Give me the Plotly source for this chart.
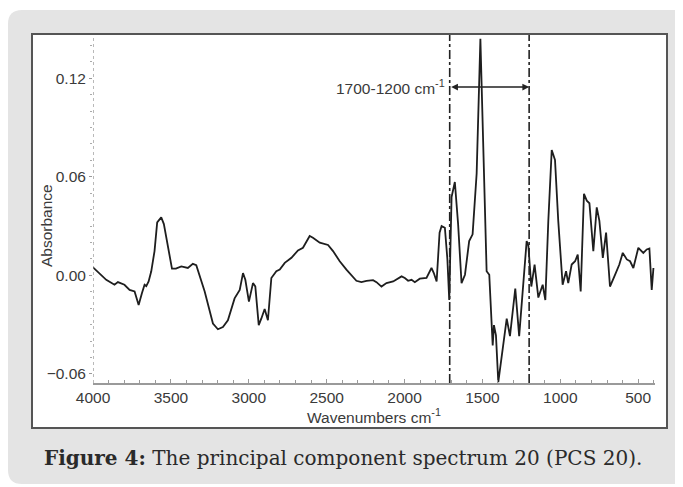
import plotly.graph_objects as go

# ---- data ----
wavenumber = [4000, 3958, 3915, 3862, 3840, 3798, 3765, 3733, 3707, 3686, 3669, 3658, 3643, 3626,
              3605, 3588, 3562, 3545, 3519, 3493, 3468, 3433, 3391, 3359, 3337, 3283, 3230, 3198,
              3166, 3134, 3091, 3058, 3037, 3022, 2999, 2973, 2958, 2936, 2919, 2898, 2877, 2855,
              2823, 2801, 2769, 2726, 2684, 2652, 2609, 2588, 2544, 2491, 2459, 2416, 2373, 2309,
              2277, 2244, 2202, 2180, 2148, 2116, 2073, 2019, 1998, 1977, 1955, 1934, 1902, 1859,
              1827, 1812, 1794, 1775, 1762, 1741, 1725, 1713, 1698, 1677, 1656, 1634, 1612, 1585,
              1563, 1537, 1513, 1495, 1473, 1456, 1434, 1426, 1413, 1398, 1344, 1323, 1289, 1264,
              1216, 1205, 1186, 1165, 1141, 1113, 1096, 1077, 1055, 1034, 1013, 985, 963, 949,
              927, 905, 888, 869, 848, 830, 813, 788, 766, 749, 727, 706, 681, 648, 621, 599,
              573, 552, 531, 499, 467, 445, 428, 413, 402]
absorbance = [0.0049, 0.0014, -0.0027, -0.0057, -0.0041, -0.0057, -0.0088, -0.0098, -0.018, -0.0109,
              -0.0057, -0.0065, -0.0037, 0.0025, 0.0148, 0.0322, 0.0353, 0.0312, 0.0168, 0.0041,
              0.0041, 0.0055, 0.0045, 0.007, 0.0062, -0.0098, -0.0293, -0.0328, -0.0314, -0.0273,
              -0.014, -0.0088, 0.0014, -0.0027, -0.016, -0.0047, -0.0067, -0.0303, -0.0262, -0.0205,
              -0.0273, -0.0016, 0.0025, 0.0035, 0.0076, 0.0107, 0.0152, 0.0168, 0.024, 0.0229,
              0.0199, 0.0185, 0.0148, 0.0086, 0.0035, -0.0033, -0.0041, -0.0033, -0.0029, -0.0041,
              -0.0068, -0.0047, -0.0037, -0.0006, -0.0016, -0.0033, -0.0027, -0.0041, -0.002, -0.0016,
              0.0045, 0.0014, -0.0037, 0.026, 0.030, 0.029, 0.010, -0.015, 0.0476, 0.0568,
              0.0312, -0.0047, 0.0004, 0.0209, 0.025, 0.062, 0.144, 0.0825, 0.0025, 0.0004,
              -0.0426, -0.0303, -0.0365, -0.065, -0.0263, -0.037, -0.008, -0.037, 0.0209, 0.018,
              -0.0068, 0.0066, -0.0135, -0.0057, -0.015, 0.033, 0.0763, 0.0702, 0.033, -0.0057,
              0.0025, -0.0047, 0.0066, 0.0086, 0.0127, -0.0098, 0.0497, 0.0455, 0.0439, 0.0148,
              0.0414, 0.0332, 0.0106, 0.026, -0.0068, 0.0004, 0.0066, 0.0137, 0.0097, 0.0086,
              0.0045, 0.0168, 0.0137, 0.0158, 0.0164, -0.0088, 0.0045]
x_ticks = [4000, 3500, 3000, 2500, 2000, 1500, 1000, 500]
y_ticks = [-0.06, 0.00, 0.06, 0.12]
region_bounds = [1710, 1200]
region_label = "1700-1200 cm<sup>-1</sup>"

# ---- layout geometry (page pixels; the page body has an 8px margin) ----
OFF = 8
W, H = 683 - OFF, 487 - OFF
L, R, T, B = 93 - OFF, 28, 35 - OFF, 104
PW, PH = W - L - R, H - T - B


def px(x):
    return (x - OFF - L) / PW


def py(y):
    return (H - B - (y - OFF)) / PH


def rounded_rect(x0, y0, x1, y1, r):
    rx, ry = r / PW, r / PH
    X0, X1, Y0, Y1 = px(x0), px(x1), py(y1), py(y0)  # Y0 bottom, Y1 top
    return (f"M {X0+rx},{Y1} L {X1-rx},{Y1} Q {X1},{Y1} {X1},{Y1-ry} "
            f"L {X1},{Y0+ry} Q {X1},{Y0} {X1-rx},{Y0} L {X0+rx},{Y0} "
            f"Q {X0},{Y0} {X0},{Y0+ry} L {X0},{Y1-ry} Q {X0},{Y1} {X0+rx},{Y1} Z")


fig = go.Figure()
fig.add_trace(go.Scatter(x=wavenumber, y=absorbance, mode="lines",
                         line=dict(color="#1e1e1e", width=1.8), hoverinfo="skip",
                         showlegend=False))

shapes = [
    # grey card
    dict(type="path", xref="paper", yref="paper", path=rounded_rect(8, 10, 700, 484, 14),
         fillcolor="#e4e4e4", line=dict(width=0), layer="below"),
    # white chart frame
    dict(type="rect", xref="paper", yref="paper", x0=px(32), x1=px(667), y0=py(428), y1=py(34),
         fillcolor="white", line=dict(color="#555555", width=2), layer="below"),
    # dotted y-axis line
    dict(type="line", xref="x", yref="paper", x0=4000, x1=4000, y0=0, y1=1,
         line=dict(color="#8a8a8a", width=1.2, dash="dot")),
]
for b in region_bounds:
    shapes.append(dict(type="line", xref="x", yref="paper", x0=b, x1=b, y0=0, y1=1,
                       line=dict(color="#222222", width=1.6, dash="dashdot")))

font_ax = dict(family="Liberation Sans, Arial, sans-serif", size=15.5, color="#3a3a3a")

annotations = [
    dict(x=region_bounds[1], y=0.1146, ax=region_bounds[0], ay=0.1146, xref="x", yref="y",
         axref="x", ayref="y", text="", showarrow=True, arrowhead=2, arrowside="end+start",
         arrowsize=0.9, arrowwidth=1.5, arrowcolor="#222222"),
    dict(x=1725, y=0.1146, xref="x", yref="y", text=region_label, showarrow=False,
         xanchor="right", yanchor="middle", font=font_ax),
    dict(x=px(46), y=py(226), xref="paper", yref="paper", text="Absorbance", textangle=-90,
         showarrow=False, xanchor="center", yanchor="middle", font=font_ax),
    dict(x=px(374), y=py(416), xref="paper", yref="paper", text="Wavenumbers cm<sup>-1</sup>",
         showarrow=False, xanchor="center", yanchor="middle", font=font_ax),
    dict(x=px(343), y=py(458), xref="paper", yref="paper",
         text="<b>Figure 4:</b> The principal component spectrum 20 (PCS 20).",
         showarrow=False, xanchor="center", yanchor="middle",
         font=dict(family="DejaVu Serif, serif", size=20, color="#2a2a2a")),
]

fig.update_layout(
    width=W, height=H,
    margin=dict(l=L, r=R, t=T, b=B),
    paper_bgcolor="white", plot_bgcolor="rgba(0,0,0,0)",
    shapes=shapes, annotations=annotations,
    xaxis=dict(range=[4000, 392], tickvals=x_ticks, ticktext=[str(v) for v in x_ticks],
               showgrid=False, zeroline=False, showline=True, linecolor="#9a9a9a", linewidth=1.5,
               ticks="inside", ticklen=4, tickcolor="#9a9a9a",
               minor=dict(dtick=100, tick0=0, ticks="inside", ticklen=3, tickcolor="#9a9a9a"),
               tickfont=font_ax),
    yaxis=dict(range=[-0.0655, 0.1463], tickvals=y_ticks, tickformat=".2f",
               showgrid=False, zeroline=False, showline=False,
               ticks="outside", ticklen=3, tickcolor="#9a9a9a",
               minor=dict(dtick=0.01, tick0=0, ticks="outside", ticklen=2, tickcolor="#aaaaaa"),
               tickfont=font_ax),
)

fig.write_html("out.html")
